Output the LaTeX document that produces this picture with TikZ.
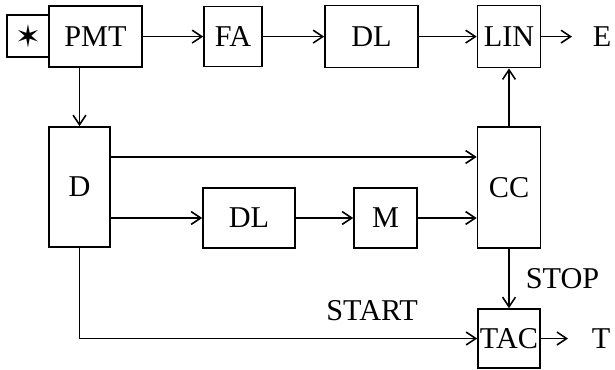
\documentclass[tikz,border=0pt]{standalone}
\usepackage{fontspec}
\setmainfont{Liberation Serif}
\newfontfamily\simbfont{DejaVu Sans}
\usetikzlibrary{arrows.meta,calc,positioning}

\begin{document}
\begin{tikzpicture}[font=\fontsize{21.5}{25}\selectfont, >={Straight Barb[length=2.4mm,width=3.2mm]}, line width=1.1pt,
  blocco/.style={draw, line width=1.2pt, inner sep=0pt, align=center},
  etich/.style={inner sep=0pt}]
\useasboundingbox (0,0) rectangle (15.375,9.225);
\node[blocco, minimum width=1.05cm, minimum height=1.05cm] (sorg) at (0.7,8.325) {\simbfont\fontsize{22}{22}\selectfont ✶};
\node[blocco, minimum width=2.325cm, minimum height=1.525cm] (pmt) at (2.3875,8.31) {PMT};
\node[blocco, minimum width=1.45cm, minimum height=1.5cm] (fa) at (5.825,8.31) {FA};
\node[blocco, minimum width=2.325cm, minimum height=1.55cm] (dla) at (9.2875,8.31) {DL};
\node[blocco, minimum width=1.575cm, minimum height=1.55cm] (lin) at (12.725,8.31) {LIN};
\node[blocco, minimum width=1.525cm, minimum height=3cm] (d) at (1.9875,4.55) {D};
\node[blocco, minimum width=2.3cm, minimum height=1.5cm] (dlb) at (6.225,3.775) {DL};
\node[blocco, minimum width=1.575cm, minimum height=1.5cm] (m) at (9.6375,3.775) {M};
\node[blocco, minimum width=1.575cm, minimum height=3.025cm] (cc) at (12.725,4.5375) {CC};
\node[blocco, minimum width=1.55cm, minimum height=1.475cm] (tac) at (12.725,0.7625) {TAC};
\node[etich, anchor=west] (e) at (14.8,8.31) {E};
\node[etich, anchor=west] (t) at (14.78,0.7625) {T};
\draw[->] (pmt.east) -- (fa.west);
\draw[->] (fa.east) -- (dla.west);
\draw[->] (dla.east) -- (lin.west);
\draw[->, shorten >=0.5cm] (lin.east) -- (e.west);
\draw[->] (d.north |- pmt.south) -- (d.north);
\draw[->] ([yshift=0.75cm]d.east) -- ([yshift=0.75cm]d.east -| cc.west);
\draw[->] (d.east |- dlb.west) -- (dlb.west);
\draw[->] (dlb.east) -- (m.west);
\draw[->] (m.east) -- (m.east -| cc.west);
\draw[->] (cc.north) -- (lin.south);
\draw[->] (cc.south) -- node[etich, right=0.4cm] {STOP} (tac.north);
\draw[->] (d.south) |- node[etich, pos=0.868, above=0.425cm] {START} (tac.west);
\draw[->, shorten >=0.58cm] (tac.east) -- (t.west);
\end{tikzpicture}
\end{document}
